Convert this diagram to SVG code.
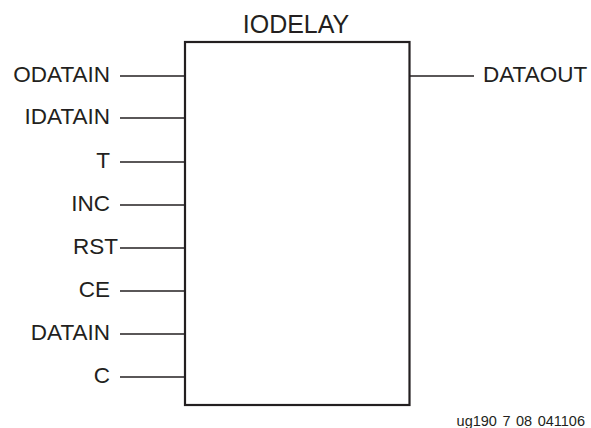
<svg xmlns="http://www.w3.org/2000/svg" width="591" height="428" viewBox="0 0 591 428">
<style>
text{font-family:"Liberation Sans",Arial,Helvetica,sans-serif;fill:#231f20}
.lbl{font-size:22.5px}
.in{text-anchor:end}
.pin{stroke:#231f20;stroke-width:1.3;fill:none}
.box{stroke:#231f20;stroke-width:2.2;fill:#fff}
</style>
<g id="iodelay">
<rect class="box" x="185" y="42" width="224.5" height="363"/>
<text x="296" y="33" font-size="25" text-anchor="middle">IODELAY</text>
</g>
<g id="connectors">
<line class="pin" x1="120" y1="76" x2="185" y2="76"/>
<line class="pin" x1="120" y1="118" x2="185" y2="118"/>
<line class="pin" x1="120" y1="162" x2="185" y2="162"/>
<line class="pin" x1="120" y1="205" x2="185" y2="205"/>
<line class="pin" x1="120" y1="248" x2="185" y2="248"/>
<line class="pin" x1="120" y1="291" x2="185" y2="291"/>
<line class="pin" x1="120" y1="334" x2="185" y2="334"/>
<line class="pin" x1="120" y1="377" x2="185" y2="377"/>
<line class="pin" x1="409.5" y1="76" x2="474" y2="76"/>
</g>
<g id="pin-odatain"><text class="lbl in" x="110" y="82">ODATAIN</text></g>
<g id="pin-idatain"><text class="lbl in" x="110" y="124">IDATAIN</text></g>
<g id="pin-t"><text class="lbl in" x="110" y="168">T</text></g>
<g id="pin-inc"><text class="lbl in" x="110" y="211">INC</text></g>
<g id="pin-rst"><text class="lbl in" x="118" y="254">RST</text></g>
<g id="pin-ce"><text class="lbl in" x="110" y="297">CE</text></g>
<g id="pin-datain"><text class="lbl in" x="110" y="340">DATAIN</text></g>
<g id="pin-c"><text class="lbl in" x="110" y="383">C</text></g>
<g id="pin-dataout"><text class="lbl" x="483" y="82">DATAOUT</text></g>
<g id="footer"><text x="585" y="425.5" font-size="14.5" text-anchor="end" word-spacing="1.5">ug190 7 08 041106</text></g>
</svg>
